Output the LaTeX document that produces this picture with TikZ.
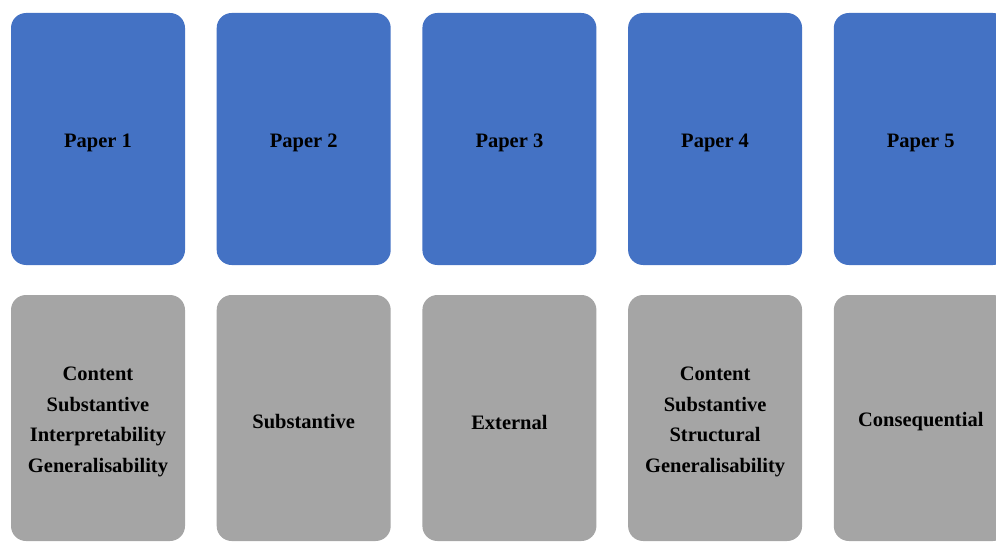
\documentclass[tikz,border=0pt]{standalone}
\usepackage{fontspec}
\setmainfont{Liberation Serif}
\definecolor{paperblue}{HTML}{4472C4}
\definecolor{validgray}{HTML}{A5A5A5}
\begin{document}
\begin{tikzpicture}[x=1pt,y=1pt,
  card/.style={rounded corners=15pt, minimum width=174pt, inner sep=0pt},
  paper/.style={card, fill=paperblue, minimum height=252pt},
  validity/.style={card, fill=validgray, minimum height=246pt},
  cardtext/.style={align=center, inner sep=0pt, text=black,
    font=\fontsize{20.5}{30.4}\selectfont\bfseries}]
\useasboundingbox (0,0) rectangle (996,542);
% top row: papers
\foreach \i/\t in {0/Paper 1,1/Paper 2,2/Paper 3,3/Paper 4,4/Paper 5}{
  \node[paper] (p\i) at ({98+205.7*\i},403) {};
  \node[cardtext] (pt\i) at ([yshift=-3.5pt]p\i.center) {\t};
}
% bottom row: validity aspects of each paper
\foreach \i/\t in {0/{Content\\Substantive\\Interpretability\\Generalisability},
                   1/Substantive, 2/External,
                   3/{Content\\Substantive\\Structural\\Generalisability},
                   4/Consequential}{
  \node[validity] (v\i) at ({98+205.7*\i},124) {};
  \node[cardtext] (vt\i) at ([yshift=-4pt]v\i.center) {\t};
}
\end{tikzpicture}
\end{document}
